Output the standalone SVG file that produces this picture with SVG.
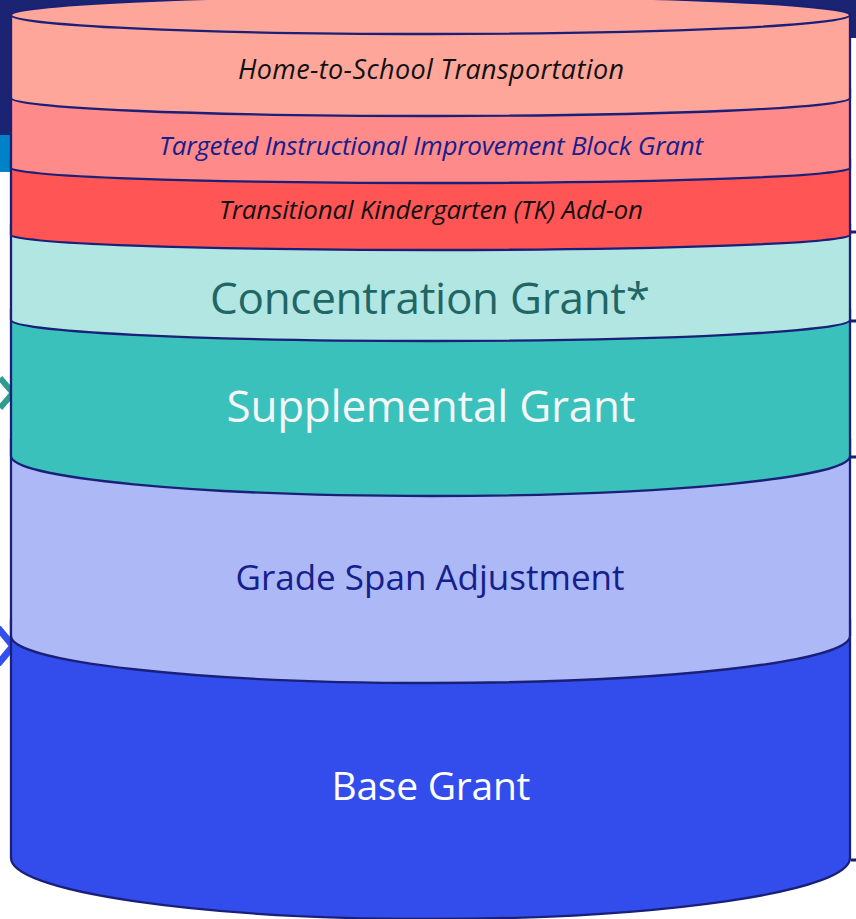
<svg xmlns="http://www.w3.org/2000/svg" width="856" height="919" viewBox="0 0 856 919">
<style>
.band{stroke:#1a1f78;stroke-width:2.300}
text{font-family:"Open Sans","Noto Sans",sans-serif;text-anchor:middle}
.it{font-style:italic;font-size:26px}
.big{font-size:44px}
.tick{stroke:#1a2070;stroke-width:3;fill:none}
</style>
<rect width="856" height="919" fill="#fff"/>
<g id="background">
<rect x="0" y="0" width="12" height="135" fill="#1b2472"/>
<rect x="0" y="135" width="12" height="37" fill="#0082c8"/>
<rect x="0" y="0" width="856" height="38" fill="#1b2472"/>
</g>
<g id="connectors">
<path class="tick" d="M851 232H856M851 321H856M851 457H856M851 860H856"/>
<path d="M0 378L13 393L0 408" fill="none" stroke="#2f9a90" stroke-width="6"/>
<path d="M-2 628L13 646L-2 664" fill="none" stroke="#3350ee" stroke-width="7"/>
</g>
<g id="base-grant">
<path class="band" fill="#334ded" d="M11 620V858A419.500 61 0 0 0 850 858V620Z"/>
<text x="431" y="800" fill="#fff" style="font-size:39px" textLength="199">Base Grant</text>
</g>
<g id="grade-span">
<path class="band" fill="#adb8f7" d="M11 440V636A419.500 47 0 0 0 850 636V440Z"/>
<text x="430" y="590" fill="#15208c" style="font-size:35px" textLength="389">Grade Span Adjustment</text>
</g>
<g id="supplemental">
<path class="band" fill="#3bc1bb" d="M11 310V456A419.500 40 0 0 0 850 456V310Z"/>
<text x="431" y="422" fill="#f4f6f8" class="big" textLength="409">Supplemental Grant</text>
</g>
<g id="concentration">
<path class="band" fill="#b2e6e2" d="M11 225V320A419.500 21 0 0 0 850 320V225Z"/>
<text x="430" y="314" fill="#1f6664" class="big" textLength="440">Concentration Grant*</text>
</g>
<g id="tk-addon">
<path class="band" fill="#ff5555" d="M11 160V235A419.500 15 0 0 0 850 235V160Z"/>
<text x="431" y="219" fill="#111" class="it" textLength="424">Transitional Kindergarten (TK) Add-on</text>
</g>
<g id="tiig">
<path class="band" fill="#ff8a8a" d="M11 90V168A419.500 15 0 0 0 850 168V90Z"/>
<text x="431" y="155" fill="#15208c" class="it" textLength="544">Targeted Instructional Improvement Block Grant</text>
</g>
<g id="home-to-school">
<path class="band" fill="#ffa69b" d="M11 15V98A419.500 18 0 0 0 850 98V15Z"/>
<ellipse class="band" fill="#ffa69b" cx="430.500" cy="15" rx="419.500" ry="19"/>
<text x="431" y="79" fill="#111" style="font-style:italic;font-size:27px" textLength="386">Home-to-School Transportation</text>
</g>
</svg>
